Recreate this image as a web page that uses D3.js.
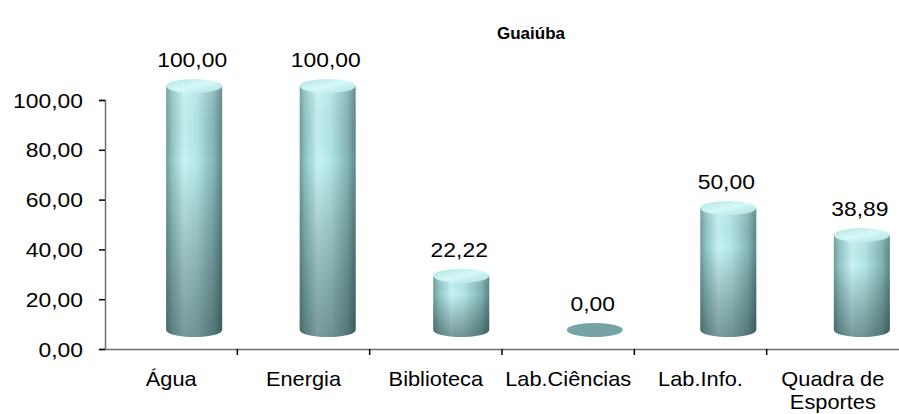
<!DOCTYPE html>
<html lang="pt">
  <head>
    <meta charset="UTF-8" />
    <title>Guaiúba</title>
    <script src="https://cdn.jsdelivr.net/npm/d3@7"></script>
    <style>
      body {
        margin: 0;
        padding: 0;
        background: #fff;
      }
      svg text {
        font-family: "Liberation Sans", Arial, sans-serif;
        fill: #000;
      }
    </style>
  </head>
  <body>
    <svg id="chart" width="899" height="414"></svg>

    <script>
      const title = "Guaiúba";
      const categories = [
        "Água",
        "Energia",
        "Biblioteca",
        "Lab.Ciências",
        "Lab.Info.",
        "Quadra de Esportes",
      ];
      const values = [100, 100, 22.22, 0, 50, 38.89];
      const yTicks = [0, 20, 40, 60, 80, 100];

      const fmt = (v) => v.toFixed(2).replace(".", ",");
      const stretch = 1.09; // the picture is a little wider than tall

      const svg = d3.select("#chart");

      const mLeft = 105,
        mRight = 899,
        mBottom = 349,
        mTop = 100;

      const x = d3.scaleBand().domain(categories).range([mLeft, mRight]);
      const y = d3.scaleLinear().domain([0, 100]).range([mBottom, mTop]);
      // back wall where the cylinders stand (3D depth)
      const yBack = d3.scaleLinear().domain([0, 100]).range([330, 86]);

      const defs = svg.append("defs");
      const body = defs
        .append("linearGradient")
        .attr("id", "body")
        .attr("x1", "0")
        .attr("x2", "1")
        .attr("y1", "0")
        .attr("y2", "0");
      [
        [0, "#6f9c9c"],
        [0.1, "#92c4c4"],
        [0.32, "#c6f3f3"],
        [0.55, "#b4e6e6"],
        [0.85, "#86b6b6"],
        [1, "#5c8686"],
      ].forEach((s) =>
        body.append("stop").attr("offset", s[0]).attr("stop-color", s[1])
      );

      const shade = defs
        .append("linearGradient")
        .attr("id", "shade")
        .attr("x1", "0")
        .attr("x2", "0")
        .attr("y1", "0")
        .attr("y2", "1");
      shade.append("stop").attr("offset", 0).attr("stop-color", "#fff").attr("stop-opacity", 0.1);
      shade.append("stop").attr("offset", 0.3).attr("stop-color", "#000").attr("stop-opacity", 0);
      shade.append("stop").attr("offset", 1).attr("stop-color", "#0a2020").attr("stop-opacity", 0.42);

      const cap = defs
        .append("linearGradient")
        .attr("id", "cap")
        .attr("x1", "0")
        .attr("x2", "1")
        .attr("y1", "0")
        .attr("y2", "1");
      cap.append("stop").attr("offset", 0).attr("stop-color", "#b2e4e4");
      cap.append("stop").attr("offset", 0.5).attr("stop-color", "#d6f8f8");
      cap.append("stop").attr("offset", 1).attr("stop-color", "#ace0e0");

      // axes
      const yAxis = svg
        .append("g")
        .attr("transform", `translate(${mLeft},0)`)
        .call(d3.axisLeft(y).tickValues(yTicks).tickSize(6).tickFormat(fmt));
      const xAxis = svg
        .append("g")
        .attr("transform", `translate(0,${mBottom})`)
        .call(d3.axisBottom(x).tickSize(0).tickFormat(""));

      [yAxis, xAxis].forEach((g) => {
        g.select(".domain").attr("stroke", "#6e6e6e").attr("stroke-width", 1.5);
        g.selectAll(".tick line").attr("stroke", "#000").attr("stroke-width", 1.5);
      });
      yAxis
        .selectAll(".tick text")
        .attr("x", null)
        .attr("dy", null)
        .attr("y", 7)
        .attr("font-size", 21)
        .attr("text-anchor", "end")
        .attr("transform", `translate(-22,0) scale(${stretch},1)`);

      // category boundary ticks
      svg
        .append("g")
        .selectAll("line")
        .data(categories.slice(1))
        .join("line")
        .attr("x1", (d) => x(d))
        .attr("x2", (d) => x(d))
        .attr("y1", mBottom)
        .attr("y2", mBottom + 6)
        .attr("stroke", "#000")
        .attr("stroke-width", 1.5);

      // category labels
      svg
        .append("g")
        .selectAll("text")
        .data(categories)
        .join("text")
        .attr("text-anchor", "middle")
        .attr("font-size", 20)
        .attr("transform", (d) => `translate(${x(d) + x.bandwidth() / 2},386) scale(${stretch},1)`)
        .each(function (d) {
          const words = d === "Quadra de Esportes" ? ["Quadra de", "Esportes"] : [d];
          d3.select(this)
            .selectAll("tspan")
            .data(words)
            .join("tspan")
            .attr("x", 0)
            .attr("dy", (w, i) => (i ? 23 : 0))
            .text((w) => w);
        });

      // cylinders
      const rx = 28,
        ry = 7;
      const cx = (d, i) => x(d) + x.bandwidth() / 2 + 23 + i * 1.2;

      const bars = svg
        .append("g")
        .selectAll("g")
        .data(categories)
        .join("g");

      bars.each(function (d, i) {
        const g = d3.select(this);
        const v = values[i];
        const c = cx(d, i);
        const y0 = yBack(0),
          y1 = yBack(v);
        if (v > 0) {
          const path = `M${c - rx},${y1} L${c - rx},${y0} A${rx},${ry} 0 0 0 ${c + rx},${y0} L${c + rx},${y1} Z`;
          g.append("path").attr("d", path).attr("fill", "url(#body)");
          g.append("path").attr("d", path).attr("fill", "url(#shade)");
          g.append("ellipse")
            .attr("cx", c)
            .attr("cy", y1)
            .attr("rx", rx)
            .attr("ry", ry)
            .attr("fill", "url(#cap)");
        } else {
          g.append("ellipse")
            .attr("cx", c)
            .attr("cy", y0)
            .attr("rx", rx)
            .attr("ry", ry)
            .attr("fill", "#76a4a4");
        }
      });

      // value labels
      svg
        .append("g")
        .selectAll("text")
        .data(categories)
        .join("text")
        .attr("text-anchor", "middle")
        .attr("font-size", 21)
        .attr("transform", (d, i) => `translate(${cx(d, i) - 2},${yBack(values[i]) - ry - 12}) scale(${stretch},1)`)
        .text((d, i) => fmt(values[i]));

      svg
        .append("text")
        .attr("text-anchor", "middle")
        .attr("font-size", 17)
        .attr("font-weight", "bold")
        .attr("transform", `translate(531,39)`)
        .text(title);
    </script>
  </body>
</html>
